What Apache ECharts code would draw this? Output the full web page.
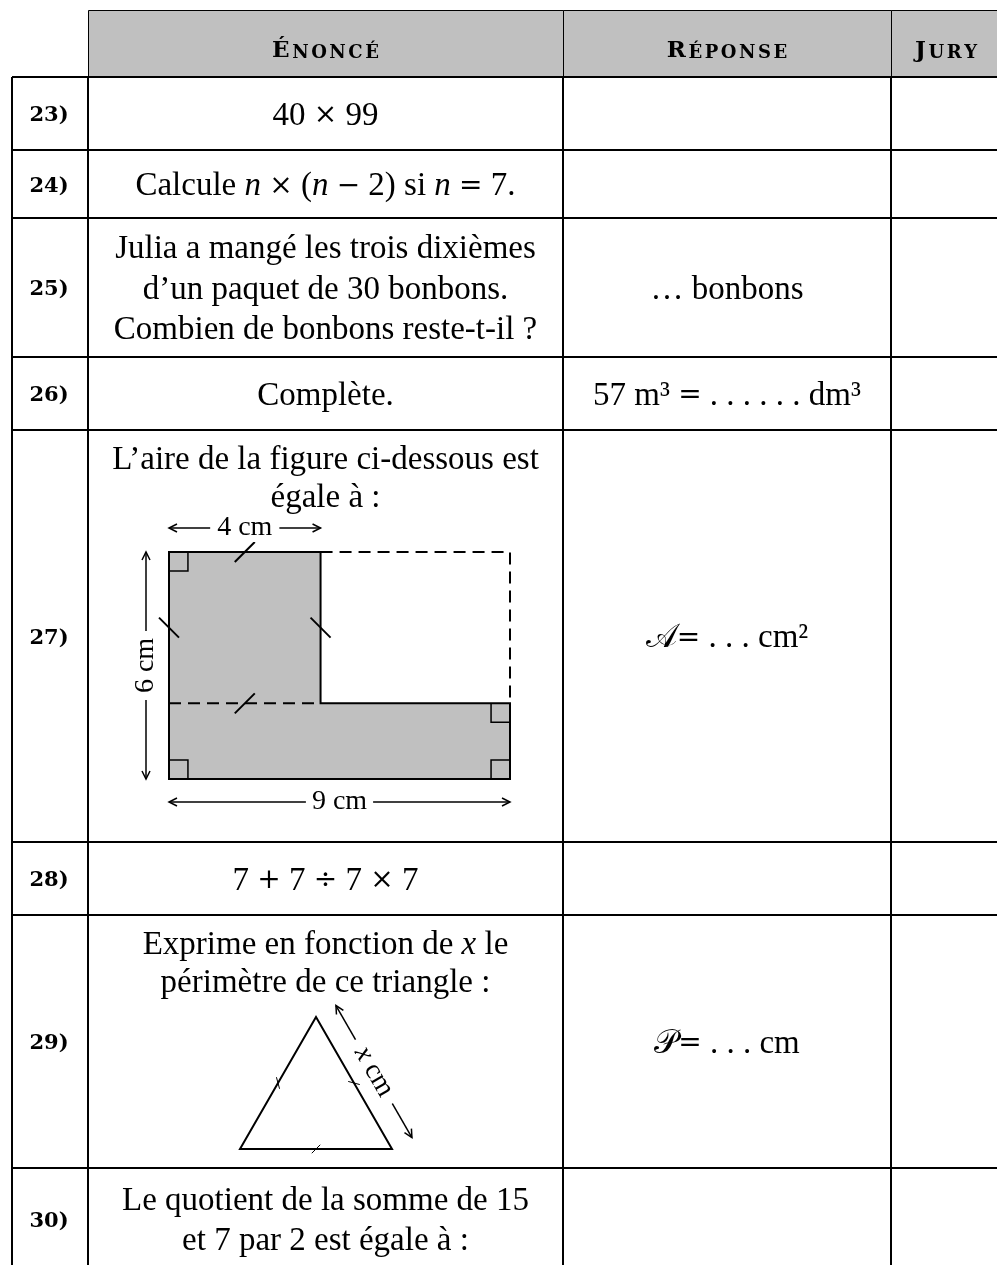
<!DOCTYPE html>
<html>
<head>
<meta charset="utf-8">
<script src="https://cdn.jsdelivr.net/npm/echarts@6/dist/echarts.min.js"></script>
<style>
    html, body { margin: 0; padding: 0; background: #fff; }
    #main { width: 997px; height: 1265px; }
</style>
</head>
<body>
<div id="main"></div>
<script>
    // ---- contenu du tableau ----
    var headerLabels = ['Énoncé', 'Réponse', 'Jury'];
    var questionNumbers = ['23)', '24)', '25)', '26)', '27)', '28)', '29)', '30)'];
    var statements = [
        ['40 × 99'],
        ['Calcule {it|n} × ({it|n} − 2) si {it|n} = 7.'],
        ['Julia a mangé les trois dixièmes', 'd’un paquet de 30 bonbons.', 'Combien de bonbons reste-t-il ?'],
        ['Complète.'],
        ['L’aire de la figure ci-dessous est', 'égale à :'],
        ['7 + 7 ÷ 7 × 7'],
        ['Exprime en fonction de {it|x} le', 'périmètre de ce triangle :'],
        ['Le quotient de la somme de 15', 'et 7 par 2 est égale à :']
    ];
    var answers = ['', '', '… bonbons', '57 m³ = . . . . . . dm³', '𝒜= . . . cm²', '', '𝒫= . . . cm', ''];
    var hasFigure = [false, false, false, false, true, false, true, false];

    // figure en L (en cm)
    var lWidths = [4, 9];   // partie haute, largeur totale
    var lHeights = [6, 2];  // hauteur totale, bande du bas
    var lDimLabels = ['4 cm', '6 cm', '9 cm'];

    // triangle équilatéral de côté x
    var triSide = 1;
    var triHeight = triSide * Math.sqrt(3) / 2;
    var triLabel = '{it|x} cm';

    // ---- mise en page ----
    var colEdges = [12, 88, 563, 891, 997];
    var rowEdges = [77, 150, 218, 357, 430, 842, 915, 1168, 1270];
    var headerTop = 10;
    var SERIF = '"Liberation Serif", "DejaVu Serif", serif';
    var BOLD = '"DejaVu Serif", serif';
    var BODY = 33, LABEL = 28, SHIFT = 2.5;

    function mathRich(size) {
        return {
            it: { fontFamily: SERIF, fontSize: size, fontStyle: 'italic' },
            op: { fontFamily: BOLD, fontSize: Math.round(size * 0.85) }
        };
    }
    // les opérateurs sont plus larges en TeX : on les passe dans une autre police
    function mathify(str) {
        return str.replace(/[×−=+÷]/g, function (c) { return '{op|' + c + '}'; });
    }

    function textEl(pos, str, o) {
        o = o || {};
        return {
            type: 'text', x: pos[0], y: pos[1], rotation: o.rotation || 0,
            style: {
                text: str, fill: '#000',
                fontFamily: o.family || SERIF, fontSize: o.size || BODY,
                fontWeight: o.weight || 'normal',
                align: 'center', verticalAlign: 'middle',
                rich: o.rich, backgroundColor: o.bg, padding: o.pad
            }
        };
    }

    function seg(a, b, w, dash) {
        return {
            type: 'line', shape: { x1: a[0], y1: a[1], x2: b[0], y2: b[1] },
            style: { stroke: '#000', lineWidth: w, lineDash: dash || null }
        };
    }

    function arrowHead(tip, ux, uy) {
        var L = 8, W = 4;
        var bx = tip[0] - ux * L, by = tip[1] - uy * L;
        return {
            type: 'polyline',
            shape: { points: [[bx - uy * W, by + ux * W], tip, [bx + uy * W, by - ux * W]] },
            style: { stroke: '#000', lineWidth: 1.5, fill: null }
        };
    }

    function dimArrow(a, b, label, pad, rich) {
        var dx = b[0] - a[0], dy = b[1] - a[1];
        var len = Math.sqrt(dx * dx + dy * dy), ux = dx / len, uy = dy / len;
        var mid = [(a[0] + b[0]) / 2, (a[1] + b[1]) / 2];
        return [
            seg(a, b, 1.5),
            arrowHead(a, -ux, -uy),
            arrowHead(b, ux, uy),
            textEl(mid, label, { size: LABEL, rich: rich, rotation: -Math.atan2(uy, ux), bg: '#fff', pad: [0, pad] })
        ];
    }

    // petites capitales : première lettre grande, les autres petites
    function smallCaps(word) {
        var up = word.toUpperCase();
        var s = '{b|' + up.charAt(0) + '}';
        for (var k = 1; k < up.length; k++) {
            s += '{g| }{s|' + up.charAt(k) + '}';
        }
        return s;
    }
    var capsRich = {
        b: { fontFamily: BOLD, fontWeight: 'bold', fontSize: 23, verticalAlign: 'bottom' },
        s: { fontFamily: BOLD, fontWeight: 'bold', fontSize: 18, verticalAlign: 'bottom' },
        g: { fontFamily: BOLD, fontSize: 8, verticalAlign: 'bottom' }
    };

    function renderHeader(params, api) {
        var c = params.dataIndex;
        var x0 = colEdges[c + 1], x1 = colEdges[c + 2];
        var p0 = api.coord([x0, headerTop]), p1 = api.coord([x1, rowEdges[0]]);
        return {
            type: 'group',
            children: [
                {
                    type: 'rect',
                    shape: { x: p0[0] + 0.5, y: p0[1] + 0.5, width: p1[0] - p0[0], height: p1[1] - p0[1] },
                    style: { fill: '#c0c0c0', stroke: '#000', lineWidth: 1 }
                },
                textEl(api.coord([(x0 + x1) / 2 + (c === 2 ? 2 : 0), headerTop + 41]), smallCaps(headerLabels[c]), { rich: capsRich })
            ]
        };
    }

    function renderRow(params, api) {
        var i = params.dataIndex;
        var y0 = rowEdges[i], y1 = rowEdges[i + 1], mid = (y0 + y1) / 2 + SHIFT;
        var children = [seg(api.coord([colEdges[0], y0]), api.coord([colEdges[4], y0]), 2)];
        for (var c = 0; c < 4; c++) {
            children.push(seg(api.coord([colEdges[c], y0]), api.coord([colEdges[c], y1]), 2));
        }
        children.push(textEl(api.coord([(colEdges[0] + colEdges[1]) / 2 - 1, mid]), questionNumbers[i],
            { family: BOLD, weight: 'bold', size: 21 }));
        var lines = statements[i];
        var gap = hasFigure[i] ? 38.5 : 40.5;
        var first = hasFigure[i] ? y0 + 30 : mid - (lines.length - 1) * gap / 2;
        var cx = (colEdges[1] + colEdges[2]) / 2;
        lines.forEach(function (t, k) {
            children.push(textEl(api.coord([cx, first + k * gap]), mathify(t), { rich: mathRich(BODY) }));
        });
        if (answers[i]) {
            children.push(textEl(api.coord([(colEdges[2] + colEdges[3]) / 2, mid]), mathify(answers[i]),
                { rich: mathRich(BODY) }));
        }
        return { type: 'group', children: children };
    }

    function renderLShape(params, api) {
        var w1 = lWidths[0], w2 = lWidths[1], h1 = lHeights[0], h2 = lHeights[1];
        function P(x, y) { return api.coord([x, y]); }
        var children = [{
            type: 'polygon',
            shape: { points: [P(0, 0), P(w2, 0), P(w2, h2), P(w1, h2), P(w1, h1), P(0, h1)] },
            style: { fill: '#c0c0c0', stroke: '#000', lineWidth: 2, lineJoin: 'miter' }
        }, {
            type: 'polyline',
            shape: { points: [P(w1, h1), P(w2, h1), P(w2, h2)] },
            style: { fill: null, stroke: '#000', lineWidth: 2, lineDash: [12, 7] }
        }, seg(P(0, h2), P(w1, h2), 2, [12, 7])];

        // angles droits
        var s = 0.5;
        [[0, h1, 1, -1], [0, 0, 1, 1], [w2, 0, -1, 1], [w2, h2, -1, -1]].forEach(function (q) {
            children.push({
                type: 'polyline',
                shape: { points: [P(q[0] + q[2] * s, q[1]), P(q[0] + q[2] * s, q[1] + q[3] * s), P(q[0], q[1] + q[3] * s)] },
                style: { fill: null, stroke: '#000', lineWidth: 1.5 }
            });
        });

        // codage des longueurs égales
        var d = 10;
        [[w1 / 2, h1, 1], [0, (h1 + h2) / 2, -1], [w1, (h1 + h2) / 2, -1], [w1 / 2, h2, 1]].forEach(function (m) {
            var c = P(m[0], m[1]);
            children.push(seg([c[0] - d, c[1] + d * m[2]], [c[0] + d, c[1] - d * m[2]], 2));
        });

        // cotes
        var tl = P(0, h1), tr = P(w1, h1), bl = P(0, 0), br = P(w2, 0);
        children = children.concat(
            dimArrow([tl[0], tl[1] - 24], [tr[0], tr[1] - 24], lDimLabels[0], 7),
            dimArrow([bl[0] - 23, bl[1]], [tl[0] - 23, tl[1]], lDimLabels[1], 7),
            dimArrow([bl[0], bl[1] + 23], [br[0], br[1] + 23], lDimLabels[2], 6)
        );
        return { type: 'group', children: children };
    }

    function renderTriangle(params, api) {
        var A = api.coord([0, 0]), B = api.coord([triSide, 0]), C = api.coord([triSide / 2, triHeight]);
        var children = [{
            type: 'polygon', shape: { points: [A, B, C] },
            style: { fill: null, stroke: '#000', lineWidth: 2, lineJoin: 'miter' }
        }];
        // petits traits au milieu des côtés
        [[A, B], [A, C], [C, B]].forEach(function (sd) {
            var vx = sd[1][0] - sd[0][0], vy = -(sd[1][1] - sd[0][1]);
            var ang = Math.atan2(vy, vx) + Math.PI / 4;
            var tx = Math.cos(ang) * 6, ty = -Math.sin(ang) * 6;
            var mx = (sd[0][0] + sd[1][0]) / 2, my = (sd[0][1] + sd[1][1]) / 2;
            children.push(seg([mx - tx, my - ty], [mx + tx, my + ty], 1));
        });
        // flèche le long du côté droit
        var dx = B[0] - C[0], dy = B[1] - C[1], len = Math.sqrt(dx * dx + dy * dy);
        var nx = dy / len, ny = -dx / len, off = 23;
        children = children.concat(
            dimArrow([C[0] + nx * off, C[1] + ny * off], [B[0] + nx * off, B[1] + ny * off], triLabel, 10, mathRich(LABEL))
        );
        return { type: 'group', children: children };
    }

    var myChart = echarts.init(document.getElementById('main'));
    var option = {
        animation: false,
        backgroundColor: '#fff',
        grid: [
            { left: 0, top: 0, width: 997, height: 1265 },
            { left: 169, top: 552, width: 341, height: 227 },
            { left: 240, top: 1017, width: 152, height: 132 }
        ],
        xAxis: [
            { gridIndex: 0, type: 'value', min: 0, max: 997, show: false },
            { gridIndex: 1, type: 'value', min: 0, max: lWidths[1], show: false },
            { gridIndex: 2, type: 'value', min: 0, max: triSide, show: false }
        ],
        yAxis: [
            { gridIndex: 0, type: 'value', min: 0, max: 1265, inverse: true, show: false },
            { gridIndex: 1, type: 'value', min: 0, max: lHeights[0], show: false },
            { gridIndex: 2, type: 'value', min: 0, max: triHeight, show: false }
        ],
        series: [
            {
                type: 'custom', xAxisIndex: 0, yAxisIndex: 0, z: 1, silent: true, clip: false,
                data: headerLabels.map(function (h, i) { return [i]; }),
                renderItem: renderHeader
            },
            {
                type: 'custom', xAxisIndex: 0, yAxisIndex: 0, z: 2, silent: true, clip: false,
                data: questionNumbers.map(function (q, i) { return [i]; }),
                renderItem: renderRow
            },
            {
                type: 'custom', xAxisIndex: 1, yAxisIndex: 1, z: 3, silent: true, clip: false,
                data: [[0]],
                renderItem: renderLShape
            },
            {
                type: 'custom', xAxisIndex: 2, yAxisIndex: 2, z: 3, silent: true, clip: false,
                data: [[0]],
                renderItem: renderTriangle
            }
        ]
    };
    myChart.setOption(option);
</script>
</body>
</html>
